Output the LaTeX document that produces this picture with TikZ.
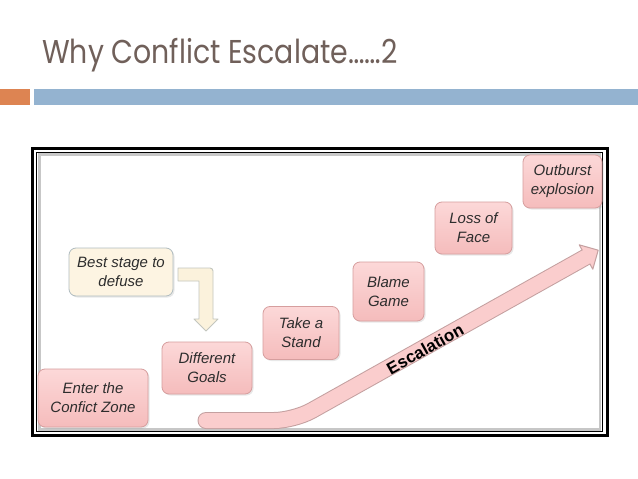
\documentclass[tikz,border=0pt]{standalone}
\usepackage{fontspec}
\setmainfont{Liberation Sans}
\newfontfamily\titlefont{Poppins}
\usetikzlibrary{shadows}
\definecolor{titlec}{RGB}{112,96,90}
\definecolor{barorange}{RGB}{221,132,82}
\definecolor{barblue}{RGB}{148,179,208}
\definecolor{pinktop}{RGB}{252,216,216}
\definecolor{pinkbot}{RGB}{245,188,188}
\definecolor{pinkborder}{RGB}{214,158,158}
\definecolor{creamfill}{RGB}{253,244,226}
\definecolor{creamborder}{RGB}{176,188,192}
\definecolor{arrowcream}{RGB}{251,242,220}
\definecolor{arrowcreamb}{RGB}{195,198,190}
\definecolor{escfill}{RGB}{250,205,205}
\definecolor{escborder}{RGB}{196,160,160}
\definecolor{textc}{RGB}{45,45,45}
\begin{document}
\begin{tikzpicture}[x=1pt,y=-1pt,
  stagebox/.style={draw=pinkborder, line width=0.8pt, rounded corners=7pt,
    top color=pinktop, bottom color=pinkbot, align=center, inner sep=0pt,
    text=textc, font=\fontsize{15}{19}\selectfont\itshape,
    drop shadow={opacity=0.18, shadow xshift=1.5pt, shadow yshift=-1.5pt}},
  bestbox/.style={stagebox, draw=creamborder, top color=creamfill, bottom color=creamfill}
]
\useasboundingbox (0,0) rectangle (638,479);
\fill[white] (0,0) rectangle (638,479);
% title
\node[anchor=base west, inner sep=0pt, text=titlec, xscale=0.86, transform shape,
  font=\titlefont\fontsize{33}{33}\selectfont] (title) at (42,63) {Why Conflict Escalate……2};
\fill[barorange] (0,89) rectangle (30,105);
\fill[barblue] (34,89) rectangle (638,105);
% frame
\draw[black!22, line width=2.5pt] (39.5,154.5) rectangle (600,429.5);
\draw[black, line width=3.3pt] (32.7,148.3) rectangle (607.5,435.5);
\draw[black, line width=1.3pt] (36.8,152.3) rectangle (602.5,431.8);
% escalation arrow
\coordinate (e0) at (206,420.5);
\coordinate (e1) at (294,420.5);
\coordinate (e2) at (586,257);
\draw[escborder, line width=17pt, line cap=round, rounded corners=20pt] (e0) -- (e1) -- (e2);
\filldraw[fill=escfill, draw=escborder, line width=1pt, line join=round]
  (579.2,244.8) -- (598.2,250.2) -- (592.8,269.2) -- cycle;
\draw[escfill, line width=15pt, line cap=round, rounded corners=20pt] (e0) -- (e1) -- (e2);
\node[rotate=29.2, inner sep=0pt, font=\bfseries\fontsize{17}{17}\selectfont] (esc) at (425,349) {Escalation};
% boxes
\node[bestbox, minimum width=104pt, minimum height=48pt] (best) at (121,272) {Best stage to\\defuse};
\node[stagebox, minimum width=110pt, minimum height=58pt] (enter) at (93,398) {Enter the\\Confict Zone};
\node[stagebox, minimum width=90pt, minimum height=52pt] (goals) at (207,368) {Different\\Goals};
\node[stagebox, minimum width=76pt, minimum height=53pt] (stand) at (301,333) {Take a\\Stand};
\node[stagebox, minimum width=71pt, minimum height=59pt] (blame) at (388.5,291.5) {Blame\\Game};
\node[stagebox, minimum width=77pt, minimum height=52pt] (face) at (473.5,228) {Loss of\\Face};
\node[stagebox, minimum width=79pt, minimum height=53pt] (outburst) at (562.5,181.5) {Outburst\\explosion};
% bent arrow from best stage to different goals
\filldraw[fill=arrowcream, draw=arrowcreamb, line width=0.9pt, line join=round]
  (178,268) [rounded corners=3pt] -- (213,268) [sharp corners] -- (213,319) -- (218,319)
  -- (206,331) -- (194,319) -- (199,319) -- (199,281) -- (178,281) -- cycle;
\end{tikzpicture}
\end{document}
